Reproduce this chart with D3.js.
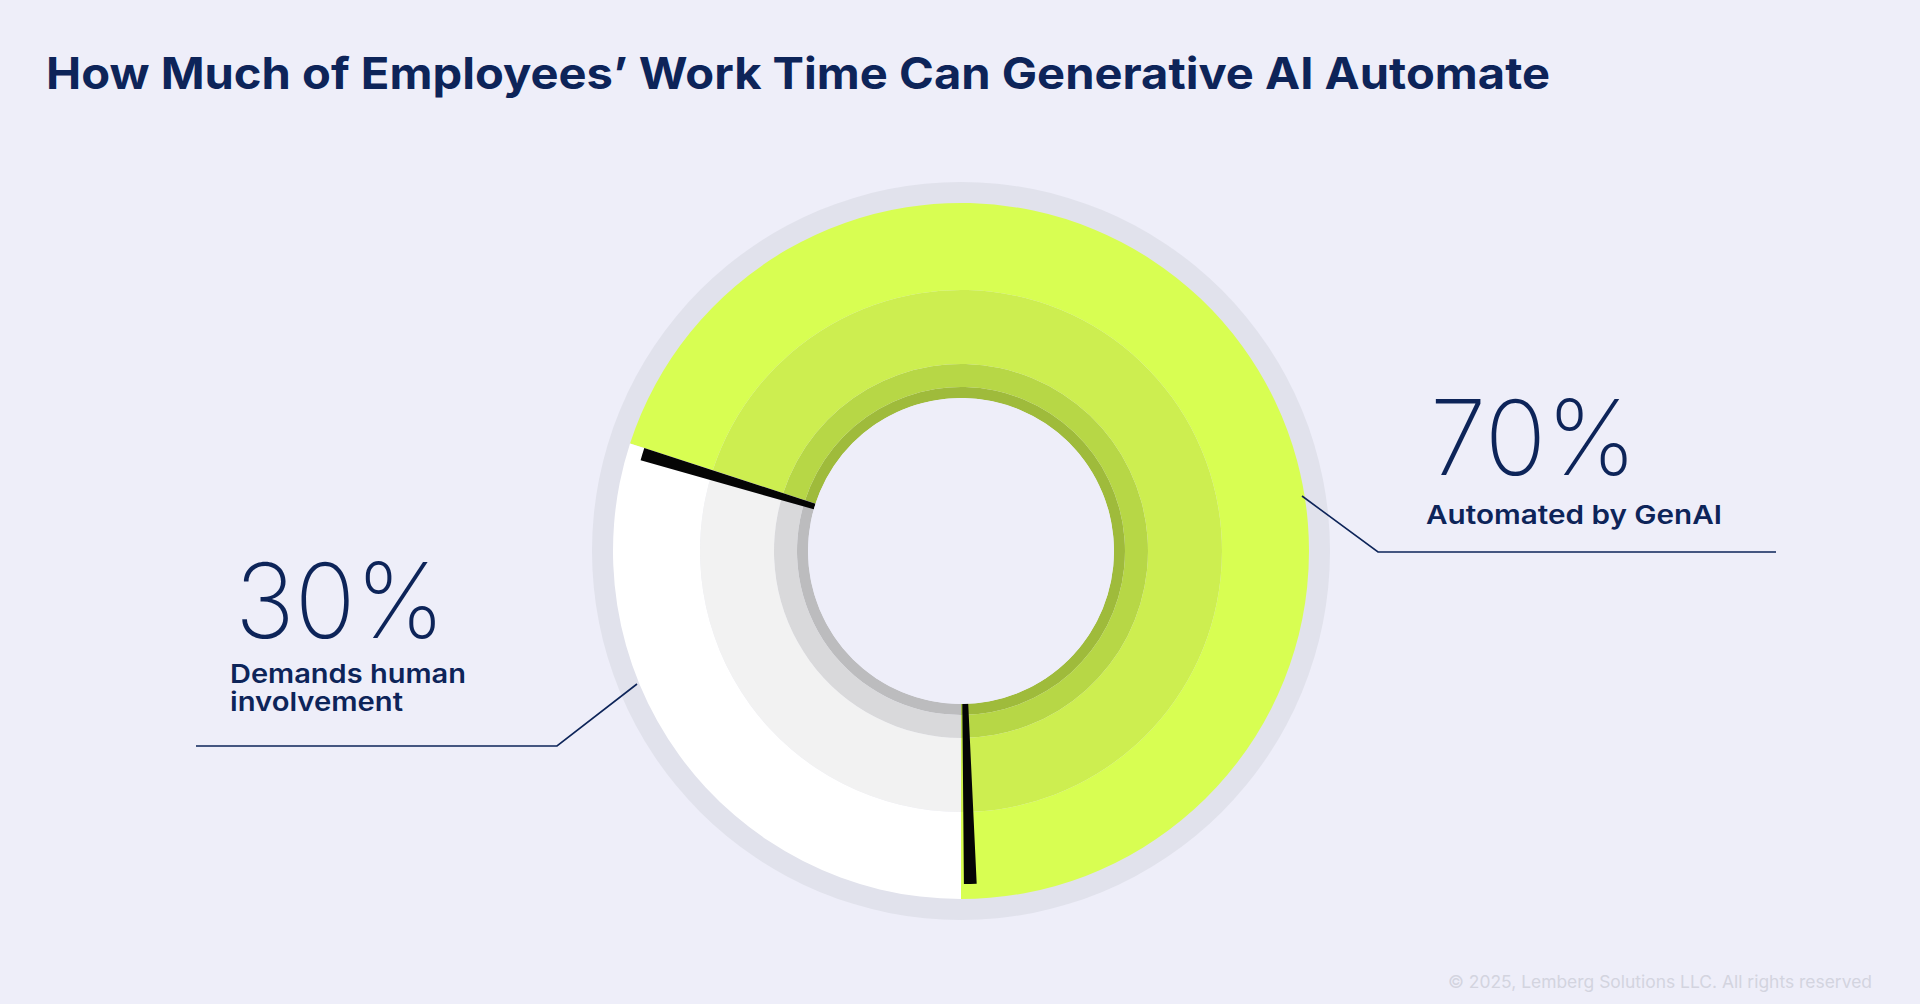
<!DOCTYPE html>
<html>
<head>
<meta charset="utf-8">
<script src="https://cdn.jsdelivr.net/npm/d3@7"></script>
<style>
  html,body{margin:0;padding:0;background:#eeeef9;}
  svg{display:block;}
</style>
</head>
<body>
<svg id="chart" width="1920" height="1004"></svg>
<script>
// ---- data ----
const title = "How Much of Employees\u2019 Work Time Can Generative AI Automate";
const categories = ["Automated by GenAI", "Demands human involvement"];
const values = [70, 30];
const valueLabels = ["70%", "30%"];
const labelLines = [["Automated by GenAI"], ["Demands human", "involvement"]];
const footer = "\u00A9 2025, Lemberg Solutions LLC. All rights reserved";

// ---- style ----
const navy = "#0d2459";
const bandColors = [
  ["#9fbb3b", "#b7d746", "#cdee50", "#d8fe52"],   // automated
  ["#bcbcbe", "#d9d9db", "#f2f2f2", "#ffffff"]    // human
];
const radii = [153, 164, 187, 261, 348];
const cx = 961, cy = 551;

const svg = d3.select("#chart");
svg.append("rect").attr("width",1920).attr("height",1004).attr("fill","#eeeef9");

// title
svg.append("text")
  .attr("x",46).attr("y",89)
  .attr("font-family","Inter, 'Noto Sans', sans-serif")
  .attr("font-weight",700).attr("font-size",44)
  .attr("fill",navy)
  .attr("textLength",1504).attr("lengthAdjust","spacingAndGlyphs")
  .text(title);

const g = svg.append("g").attr("transform",`translate(${cx},${cy})`);

// background disc
g.append("circle").attr("r",369).attr("fill","#e1e2ec");
g.append("circle").attr("r",radii[0]).attr("fill","#eeeef9");

const total = d3.sum(values);
const start = Math.PI - 2*Math.PI*values[0]/total;
const pie = d3.pie().sort(null).startAngle(start).endAngle(start + 2*Math.PI);
const arcs = pie(values);

arcs.forEach((a, i) => {
  for (let b = 0; b < 4; b++) {
    const arc = d3.arc().innerRadius(radii[b]).outerRadius(radii[b+1]);
    g.append("path")
      .attr("d", arc({startAngle:a.startAngle, endAngle:a.endAngle}))
      .attr("fill", bandColors[i][b]);
  }
});
// dark edge wedges at the end of each slice
const wedge = 2.2*Math.PI/180;
const shift = [0.5*Math.PI/180, 0];
arcs.forEach((a,i) => {
  const arc = d3.arc().innerRadius(radii[0]).outerRadius(333);
  g.append("path")
    .attr("d", arc({startAngle:a.endAngle - wedge - shift[i], endAngle:a.endAngle - shift[i]}))
    .attr("fill", "#050505");
});
g.append("circle").attr("r",radii[0]).attr("fill","#eeeef9");

// leader lines
const line = d3.line();
svg.append("path")
  .attr("d", line([[1302,496],[1378,552],[1776,552]]))
  .attr("fill","none").attr("stroke",navy).attr("stroke-width",1.6);
svg.append("path")
  .attr("d", line([[637,684],[557,746],[196,746]]))
  .attr("fill","none").attr("stroke",navy).attr("stroke-width",1.6);

// value labels
const labelPos = [{x:1430, y:475, w:207}, {x:235, y:638, w:210}];
const subPos = [{x:1426, y:524}, {x:230, y:683}];
const subWidths = [[296], [236, 173]];
arcs.forEach((a,i) => {
  svg.append("text")
    .attr("x",labelPos[i].x).attr("y",labelPos[i].y)
    .attr("font-family","Inter, 'Noto Sans', sans-serif")
    .attr("font-weight",200).attr("font-size",104)
    .attr("fill",navy)
    .attr("textLength",labelPos[i].w).attr("lengthAdjust","spacingAndGlyphs")
    .text(valueLabels[i]);
  const t = svg.append("text")
    .attr("font-family","Inter, 'Noto Sans', sans-serif")
    .attr("font-weight",600).attr("font-size",26)
    .attr("fill",navy);
  labelLines[i].forEach((s,j) => {
    t.append("tspan").attr("x",subPos[i].x).attr("y",subPos[i].y + j*28)
      .attr("textLength",subWidths[i][j]).attr("lengthAdjust","spacingAndGlyphs")
      .text(s);
  });
});

// footer
svg.append("text")
  .attr("x",1872).attr("y",988).attr("text-anchor","end")
  .attr("font-family","Inter, 'Noto Sans', sans-serif")
  .attr("font-size",17).attr("fill","#d3d4df")
  .attr("textLength",424).attr("lengthAdjust","spacingAndGlyphs")
  .text(footer);
</script>
</body>
</html>
